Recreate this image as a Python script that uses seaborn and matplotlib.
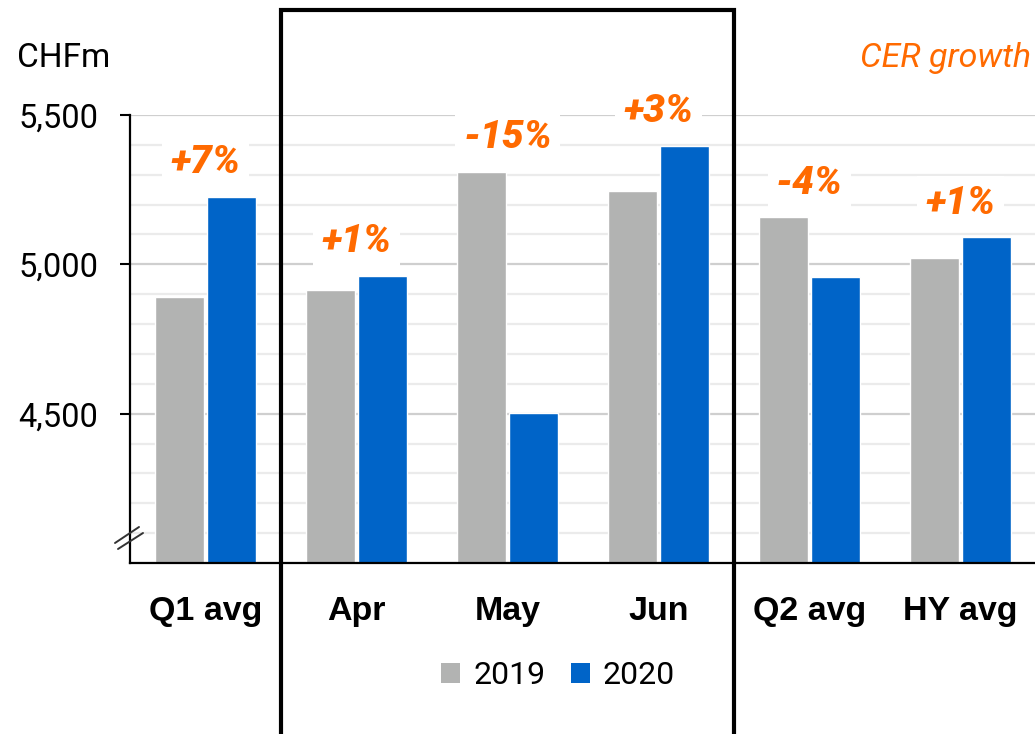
import matplotlib
matplotlib.use("Agg")
import matplotlib.pyplot as plt
import matplotlib.ticker as mticker
from matplotlib.patches import Rectangle
from matplotlib.lines import Line2D
from matplotlib.transforms import blended_transform_factory
import seaborn as sns
import pandas as pd

periods = ["Q1 avg", "Apr", "May", "Jun", "Q2 avg", "HY avg"]
sales_2019 = [4890, 4913, 5310, 5247, 5157, 5020]
sales_2020 = [5227, 4960, 4503, 5397, 4957, 5090]
growth = ["+7%", "+1%", "-15%", "+3%", "-4%", "+1%"]
years = ["2019", "2020"]

gray = "#b2b3b2"
blue = "#0064c8"
orange = "#ff6a00"

df = pd.DataFrame({
    "period": periods * 2,
    "year": [years[0]] * len(periods) + [years[1]] * len(periods),
    "value": sales_2019 + sales_2020,
})

sns.set_style("white")
plt.rcParams["font.family"] = ["Roboto", "DejaVu Sans"]
plt.rcParams["text.color"] = "black"
plt.rcParams["xtick.color"] = "black"
plt.rcParams["ytick.color"] = "black"

fig = plt.figure(figsize=(10.35, 7.34), dpi=100)
ax = fig.add_axes([130 / 1035, 1 - 563 / 734, 906 / 1035, (563 - 115) / 734])

sns.barplot(data=df, x="period", y="value", hue="year", palette=[gray, blue],
            width=0.68, gap=0.05, saturation=1, ax=ax, legend=False)

ax.set_ylim(4000, 5500)
ax.set_xlim(-0.5, 5.5)
ax.set_xlabel("")
ax.set_ylabel("")

ax.set_yticks([4500, 5000, 5500])
ax.yaxis.set_minor_locator(mticker.MultipleLocator(100))
ax.yaxis.set_major_formatter(mticker.FuncFormatter(lambda v, p: f"{v:,.0f}"))
ax.set_axisbelow(True)
ax.grid(which="major", axis="y", color="#cfcfcf", lw=1.6)
ax.grid(which="minor", axis="y", color="#ebebeb", lw=1.6)
ax.tick_params(axis="y", which="major", length=7, width=1.5, color="black",
               pad=16, labelsize=23.5, direction="out", left=True, labelcolor="black")
ax.tick_params(axis="y", which="minor", length=0)
ax.tick_params(axis="x", length=0, pad=24, labelcolor="black")
for lab in ax.get_xticklabels():
    lab.set_fontfamily(["Liberation Sans", "DejaVu Sans"])
    lab.set_fontweight("bold")
    lab.set_fontsize(24.5)

for s in ["top", "right"]:
    ax.spines[s].set_visible(False)
for s in ["left", "bottom"]:
    ax.spines[s].set_color("black")
    ax.spines[s].set_linewidth(1.6)

# growth labels above each pair
for i, g in enumerate(growth):
    top = max(sales_2019[i], sales_2020[i])
    ax.text(i, top + 115, g, ha="center", va="center", color=orange,
            fontsize=28, fontweight="heavy", fontstyle="italic",
            bbox=dict(facecolor="white", edgecolor="none", pad=6),
            clip_on=False, zorder=5)

# box around the monthly figures
trans = blended_transform_factory(ax.transData, fig.transFigure)
ax.add_patch(Rectangle((0.5, -0.05), 3.0, 1 - 10 / 734 + 0.05, transform=trans,
                       fill=False, edgecolor="black", lw=3, clip_on=False, zorder=6))

# axis break mark
for (x0, y0, x1, y1) in [(115, 543, 139, 527), (118, 549, 143, 533)]:
    fig.add_artist(Line2D([x0 / 1035, x1 / 1035], [1 - y0 / 734, 1 - y1 / 734],
                          color="#333333", lw=1.4))

fig.text(17 / 1035, 1 - 58 / 734, "CHFm", fontsize=24, va="center", ha="left")
fig.text(1031 / 1035, 1 - 58 / 734, "CER growth", fontsize=24.5, va="center",
         ha="right", color=orange, fontstyle="italic")

handles = [Rectangle((0, 0), 1, 1, facecolor=c, edgecolor="none") for c in [gray, blue]]
fig.legend(handles, years, loc="center", bbox_to_anchor=(558 / 1035, 1 - 676 / 734),
           ncol=2, frameon=False, fontsize=23, handlelength=0.6, handleheight=0.6,
           handletextpad=0.4, columnspacing=0.8)

fig.savefig("out.png", dpi=100)
